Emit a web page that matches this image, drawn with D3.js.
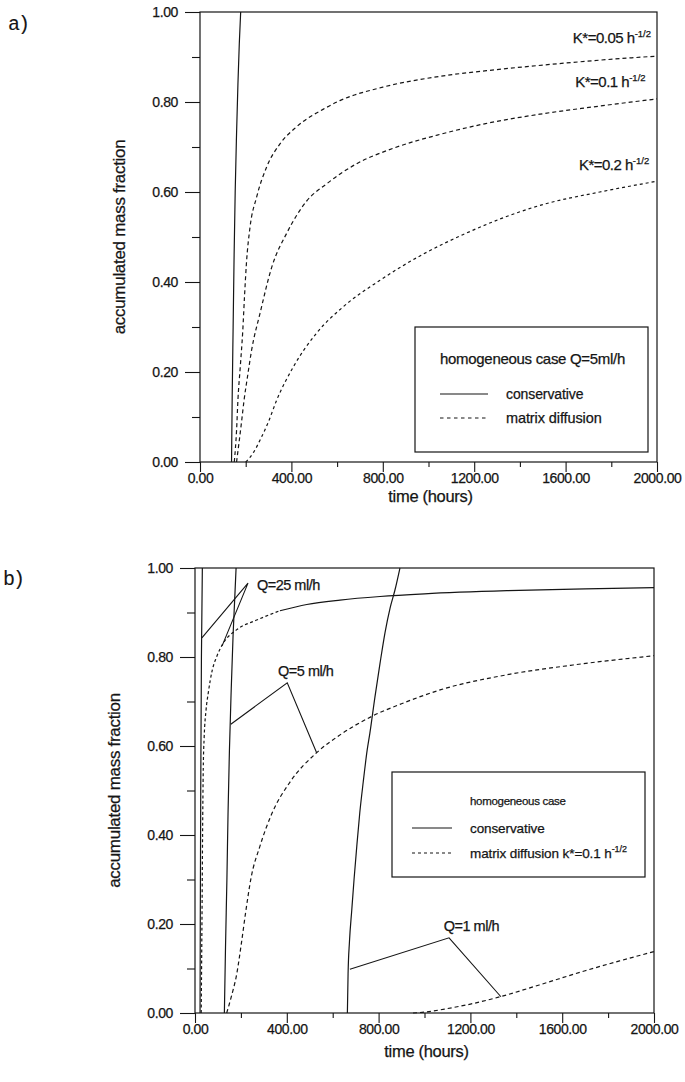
<!DOCTYPE html>
<html>
<head>
<meta charset="utf-8">
<script src="https://cdn.jsdelivr.net/npm/d3@7"></script>
<style>
  body { margin: 0; background: #fff; }
  svg { display: block; font-family: "Liberation Sans", Arial, sans-serif; }
  text { stroke: #151515; stroke-width: 0.25px; }
</style>
</head>
<body>
<svg id="chart" width="685" height="1082"></svg>
<script>
// Accumulated mass fraction vs time, two panels
const xTicks = [0, 400, 800, 1200, 1600, 2000];
const xMinor = [200, 600, 1000, 1400, 1800];
const yTicks = [0, 0.2, 0.4, 0.6, 0.8, 1.0];
const yMinor = [0.1, 0.3, 0.5, 0.7, 0.9];

// panel a - homogeneous case Q=5 ml/h, [time h, fraction]
const aConservative = [[138,0],[141,0.15],[145,0.3],[149,0.45],[154,0.6],[160,0.73],[166,0.84],[172,0.93],[178,1.0]];
const aK005 = [[150,0],[155,0.03],[160,0.07],[166,0.138],[176,0.21],[187,0.29],[195,0.37],[203,0.44],[219,0.522],[248,0.589],
  [292,0.656],[350,0.707],[423,0.745],[554,0.788],[612,0.803],[800,0.833],[1050,0.857],[1300,0.872],[1500,0.882],[1750,0.893],[2000,0.902]];
const aK01 = [[160,0],[170,0.04],[182,0.09],[193,0.138],[208,0.19],[226,0.249],[263,0.331],[314,0.433],[380,0.509],[467,0.58],
  [554,0.618],[613,0.64],[686,0.663],[845,0.697],[1050,0.728],[1250,0.752],[1488,0.773],[1750,0.791],[2000,0.807]];
const aK02 = [[200,0],[215,0.008],[235,0.022],[263,0.049],[300,0.09],[336,0.138],[408,0.211],[511,0.287],[627,0.345],[788,0.404],
  [977,0.462],[1150,0.505],[1313,0.54],[1500,0.572],[1750,0.6],[2000,0.624]];
const aLabels = [
  { t: 1974, f: 0.931, text: "K*=0.05 h" },
  { t: 1950, f: 0.834, text: "K*=0.1 h" },
  { t: 1966, f: 0.649, text: "K*=0.2 h" }
];

// panel b - three flow rates, k*=0.1 h^-1/2
const bQ25Cons = [[22,0],[23,0.2],[25,0.5],[28,0.8],[32,1.0]];
const bQ25Diff = [[27,0],[29,0.12],[31,0.25],[33,0.4],[36,0.55],[40,0.62],[48,0.68],[58,0.72],[75,0.77],[94,0.8],[122,0.83],
  [181,0.861],[269,0.883],[370,0.904],[487,0.918],[632,0.928],[806,0.936],[1000,0.942],[1359,0.949],[1700,0.953],[2000,0.956]];
const bQ5Cons = [[128,0],[133,0.15],[139,0.3],[144,0.45],[150,0.59],[158,0.73],[166,0.85],[173,0.93],[179,1.0]];
const bQ5Diff = [[138,0],[160,0.04],[182,0.088],[203,0.16],[222,0.231],[244,0.303],[283,0.375],[334,0.447],[414,0.519],
  [530,0.585],[632,0.625],[776,0.668],[900,0.695],[1068,0.726],[1359,0.76],[1647,0.782],[2000,0.803]];
const bQ1Cons = [[664,0],[667,0.088],[673,0.16],[683,0.231],[693,0.3],[705,0.375],[718,0.45],[733,0.519],[750,0.59],
  [762,0.629],[784,0.71],[806,0.785],[828,0.855],[850,0.91],[871,0.95],[893,1.0]];
const bQ1Diff = [[950,0],[1000,0.002],[1100,0.01],[1200,0.02],[1333,0.037],[1500,0.063],[1700,0.095],[1850,0.117],[2000,0.138]];
const bNotes = [
  { text: "Q=25 ml/h", t: 270, f: 0.95, leader: [[30,0.843],[231,0.966],[118,0.825]] },
  { text: "Q=5 ml/h", t: 362, f: 0.757, leader: [[156,0.649],[402,0.742],[530,0.585]] },
  { text: "Q=1 ml/h", t: 1084, f: 0.184, leader: [[675,0.0985],[1107,0.169],[1333,0.0365]] }
];

const ink = "#151515";
const svg = d3.select("#chart");
const fmt = d3.format(".2f");

function panel(box) {
  const x = d3.scaleLinear().domain([0, 2000]).range([box.left, box.left + box.width]);
  const y = d3.scaleLinear().domain([0, 1]).range([box.top + box.height, box.top]);
  const g = svg.append("g");

  const axisStyle = sel => {
    sel.attr("font-size", 14).attr("font-family", "Liberation Sans, Arial, sans-serif");
    sel.select(".domain").remove();
    sel.selectAll("line").attr("stroke", ink).attr("stroke-width", 1.1);
    sel.selectAll("text").attr("fill", ink).attr("letter-spacing", -0.4);
  };

  g.append("g").attr("transform", `translate(${box.left},0)`)
    .call(d3.axisLeft(y).tickValues(yTicks).tickSize(15).tickPadding(7).tickFormat(fmt)).call(axisStyle);
  g.append("g").attr("transform", `translate(${box.left},0)`)
    .call(d3.axisLeft(y).tickValues(yMinor).tickSize(8).tickFormat("")).call(axisStyle);
  g.append("g").attr("transform", `translate(0,${box.top + box.height})`)
    .call(d3.axisBottom(x).tickValues(xTicks).tickSize(10).tickPadding(1).tickFormat(fmt)).call(axisStyle);
  g.append("g").attr("transform", `translate(0,${box.top + box.height})`)
    .call(d3.axisBottom(x).tickValues(xMinor).tickSize(5).tickFormat("")).call(axisStyle);

  // frame
  g.append("rect")
    .attr("x", box.left).attr("y", box.top)
    .attr("width", box.width).attr("height", box.height)
    .attr("fill", "none").attr("stroke", ink).attr("stroke-width", 1.2);

  g.append("text")
    .attr("transform", `translate(${box.left - 75},${box.top + box.height / 2}) rotate(-90)`)
    .attr("text-anchor", "middle")
    .attr("font-size", 17).attr("letter-spacing", -0.3).attr("fill", ink)
    .text("accumulated mass fraction");

  g.append("text")
    .attr("x", box.left + box.width / 2 + 2).attr("y", box.top + box.height + box.titleGap)
    .attr("text-anchor", "middle")
    .attr("font-size", 16.5).attr("letter-spacing", -0.3).attr("fill", ink)
    .text("time (hours)");

  g.append("text")
    .attr("x", box.tagX).attr("y", box.tagY)
    .attr("font-family", "Liberation Mono, Courier New, monospace")
    .attr("font-size", 20).attr("letter-spacing", -2).attr("fill", ink)
    .style("stroke-width", "0.1px")
    .text(box.tag);

  const line = d3.line().x(d => x(d[0])).y(d => y(d[1])).curve(d3.curveMonotoneX);
  const draw = (data, dash) => g.append("path")
    .datum(data)
    .attr("d", line)
    .attr("fill", "none")
    .attr("stroke", ink)
    .attr("stroke-width", 1.2)
    .attr("stroke-dasharray", dash || null);

  return { g, x, y, draw };
}

function legend(g, left, top, w, h, title, titleSize, items) {
  const lg = g.append("g").attr("transform", `translate(${left},${top})`);
  lg.append("rect").attr("width", w).attr("height", h)
    .attr("fill", "#fff").attr("stroke", ink).attr("stroke-width", 1.2);
  lg.append("text").attr("x", title.x).attr("y", title.y)
    .attr("font-size", titleSize).attr("letter-spacing", -0.3).attr("fill", ink).text(title.text);
  items.forEach(it => {
    lg.append("line").attr("x1", it.x1).attr("x2", it.x2).attr("y1", it.y).attr("y2", it.y)
      .attr("stroke", ink).attr("stroke-width", 1.1).attr("stroke-dasharray", it.dash || null);
    const t = lg.append("text").attr("x", it.tx).attr("y", it.y + 5)
      .attr("font-size", it.size).attr("letter-spacing", -0.1).attr("fill", ink).text(it.text);
    if (it.sup) t.append("tspan").attr("dy", -6).attr("font-size", 9).text(it.sup);
  });
}

// ---- panel a ----
const pa = panel({ left: 200, top: 12, width: 457, height: 450, titleGap: 40, tag: "a)", tagX: 8, tagY: 30 });
pa.draw(aConservative);
pa.draw(aK005, "4,3");
pa.draw(aK01, "4,3");
pa.draw(aK02, "3,3");

aLabels.forEach(l => {
  const t = pa.g.append("text")
    .attr("x", pa.x(l.t)).attr("y", pa.y(l.f))
    .attr("text-anchor", "end")
    .attr("font-size", 15).attr("letter-spacing", -0.5).attr("fill", ink)
    .text(l.text);
  t.append("tspan").attr("dy", -6).attr("font-size", 9.5).attr("letter-spacing", 0).text("-1/2");
});

legend(pa.g, 415, 327, 233, 125,
  { text: "homogeneous case Q=5ml/h", x: 25, y: 37 }, 15,
  [
    { x1: 25, x2: 73, y: 67, tx: 91, text: "conservative", size: 14 },
    { x1: 25, x2: 73, y: 91, tx: 91, text: "matrix diffusion", size: 14.5, dash: "3.5,3.5" }
  ]);

// ---- panel b ----
const pb = panel({ left: 195, top: 568, width: 459, height: 445, titleGap: 44, tag: "b)", tagX: 3, tagY: 585 });
pb.draw(bQ25Cons);
pb.draw(bQ25Diff.filter(d => d[0] <= 370), "3,2.5");
pb.draw(bQ25Diff.filter(d => d[0] >= 370));
pb.draw(bQ5Cons);
pb.draw(bQ5Diff, "4,3");
pb.draw(bQ1Cons);
pb.draw(bQ1Diff, "4,3");

const leader = d3.line().x(d => pb.x(d[0])).y(d => pb.y(d[1]));
bNotes.forEach(n => {
  pb.g.append("path").datum(n.leader).attr("d", leader)
    .attr("fill", "none").attr("stroke", ink).attr("stroke-width", 1.1);
  pb.g.append("text").attr("x", pb.x(n.t)).attr("y", pb.y(n.f))
    .attr("font-size", 14.5).attr("letter-spacing", -0.5).attr("fill", ink).text(n.text);
});

legend(pb.g, 392, 772, 253, 105,
  { text: "homogeneous case", x: 78, y: 33 }, 11.5,
  [
    { x1: 20, x2: 60, y: 56, tx: 78, text: "conservative", size: 13.5 },
    { x1: 20, x2: 60, y: 81, tx: 78, text: "matrix diffusion k*=0.1 h", size: 13.5, dash: "3,3", sup: "-1/2" }
  ]);
</script>
</body>
</html>
